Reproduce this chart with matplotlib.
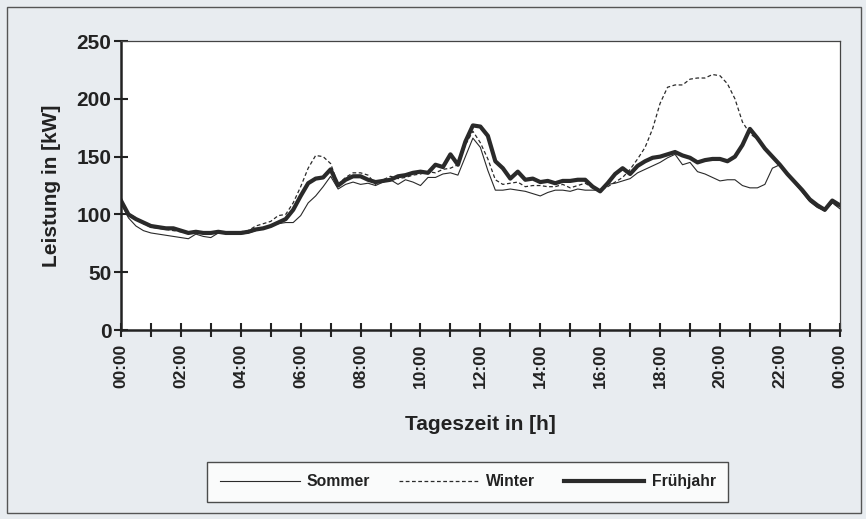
import matplotlib
matplotlib.use("Agg")
import matplotlib.pyplot as plt
import numpy as np
from matplotlib.patches import Rectangle

plt.rcParams["font.family"] = ["Liberation Sans", "DejaVu Sans"]

# Stunden im Viertelstundenraster, 0..24 h
stunden = np.arange(97) * 0.25

fruehjahr = [112, 100, 96, 93, 90, 89, 88, 88, 86, 84, 85, 84, 84, 85, 84, 84,
             84, 85, 87, 88, 90, 93, 96, 104, 116, 127, 131, 132, 139, 125, 130, 133,
             133, 130, 128, 129, 130, 133, 134, 136, 137, 136, 143, 141, 152, 143, 163, 177,
             176, 168, 146, 140, 131, 137, 130, 131, 128, 129, 127, 129, 129, 130, 130, 124,
             120, 127, 135, 140, 135, 142, 146, 149, 150, 152, 154, 151, 149, 145, 147, 148,
             148, 146, 150, 160, 174, 166, 157, 150, 143, 135, 128, 121, 113, 108, 104, 112,
             108]

winter = [112, 101, 97, 92, 89, 88, 87, 86, 85, 84, 86, 84, 84, 85, 85, 84,
          85, 86, 90, 92, 94, 99, 100, 110, 124, 140, 151, 150, 144, 126, 132, 136,
          136, 134, 126, 130, 133, 131, 132, 134, 135, 137, 136, 139, 140, 143, 160, 172,
          162, 148, 130, 126, 127, 128, 124, 125, 125, 124, 124, 126, 123, 125, 127, 123,
          121, 124, 128, 132, 139, 148, 158, 174, 196, 210, 212, 212, 217, 218, 218, 221,
          220, 213, 200, 180, 170, 165, 157, 150, 143, 135, 128, 120, 112, 107, 104, 110,
          106]

sommer = [110, 97, 90, 86, 84, 83, 82, 81, 80, 79, 83, 81, 80, 84, 84, 83,
          83, 84, 86, 88, 90, 92, 93, 93, 99, 110, 116, 124, 133, 122, 126, 128,
          126, 127, 125, 128, 130, 126, 130, 128, 125, 132, 132, 135, 136, 134, 150, 166,
          158, 138, 121, 121, 122, 121, 120, 118, 116, 119, 121, 121, 120, 122, 121, 121,
          121, 126, 127, 129, 131, 136, 139, 142, 145, 149, 152, 143, 145, 137, 135, 132,
          129, 130, 130, 125, 123, 123, 126, 140, 143, 134, 127, 119, 111, 106, 103, 110,
          105]

tick_stunden = list(range(0, 25, 2))
tick_labels = ["%02d:00" % (h % 24) for h in tick_stunden]

fig = plt.figure(figsize=(8.66, 5.19), dpi=100)
fig.patch.set_facecolor("#e8ecf0")
fig.patches.append(Rectangle((0.008, 0.012), 0.986, 0.975, transform=fig.transFigure,
                             fill=False, edgecolor="#555555", linewidth=1.0))

ax = fig.add_axes([0.1397, 0.364, 0.830, 0.557])
ax.set_facecolor("white")

ax.plot(stunden, sommer, color="#2a2a2a", linewidth=0.8, label="Sommer")
ax.plot(stunden, winter, color="#2a2a2a", linewidth=0.9, linestyle=(0, (3, 2)), label="Winter")
ax.plot(stunden, fruehjahr, color="#2a2a2a", linewidth=3.0, label="Frühjahr")

ax.set_xlim(0, 24)
ax.set_ylim(0, 250)
ax.set_yticks([0, 50, 100, 150, 200, 250])
ax.set_xticks(tick_stunden)
ax.set_xticklabels(tick_labels, rotation=90)
ax.set_xticks(range(25), minor=True)

for s in ["left", "bottom"]:
    ax.spines[s].set_linewidth(1.8)
    ax.spines[s].set_color("#222222")
for s in ["top", "right"]:
    ax.spines[s].set_linewidth(0.9)
    ax.spines[s].set_color("#444444")

ax.tick_params(axis="both", which="both", direction="inout", length=10, width=1.5,
               color="#222222")
ax.tick_params(axis="x", which="major", labelsize=12.5, pad=5)
ax.tick_params(axis="y", which="major", labelsize=15, pad=2)
for lbl in ax.get_yticklabels() + ax.get_xticklabels():
    lbl.set_fontweight("bold")
    lbl.set_color("#222222")

ax.set_ylabel("Leistung in [kW]", fontsize=15, fontweight="bold", labelpad=11,
              color="#222222")
ax.set_xlabel("Tageszeit in [h]", fontsize=15, fontweight="bold", labelpad=19,
              color="#222222")

leg = fig.legend(loc="center", bbox_to_anchor=(0.54, 0.072), ncol=3, fontsize=11.3,
                 handlelength=5.1, columnspacing=1.85, handletextpad=0.45,
                 frameon=True, fancybox=False, edgecolor="#222222", borderpad=0.8)
leg.get_frame().set_linewidth(1.0)
for t in leg.get_texts():
    t.set_fontweight("bold")
    t.set_color("#222222")

fig.savefig("out.png", dpi=100, facecolor=fig.get_facecolor())
